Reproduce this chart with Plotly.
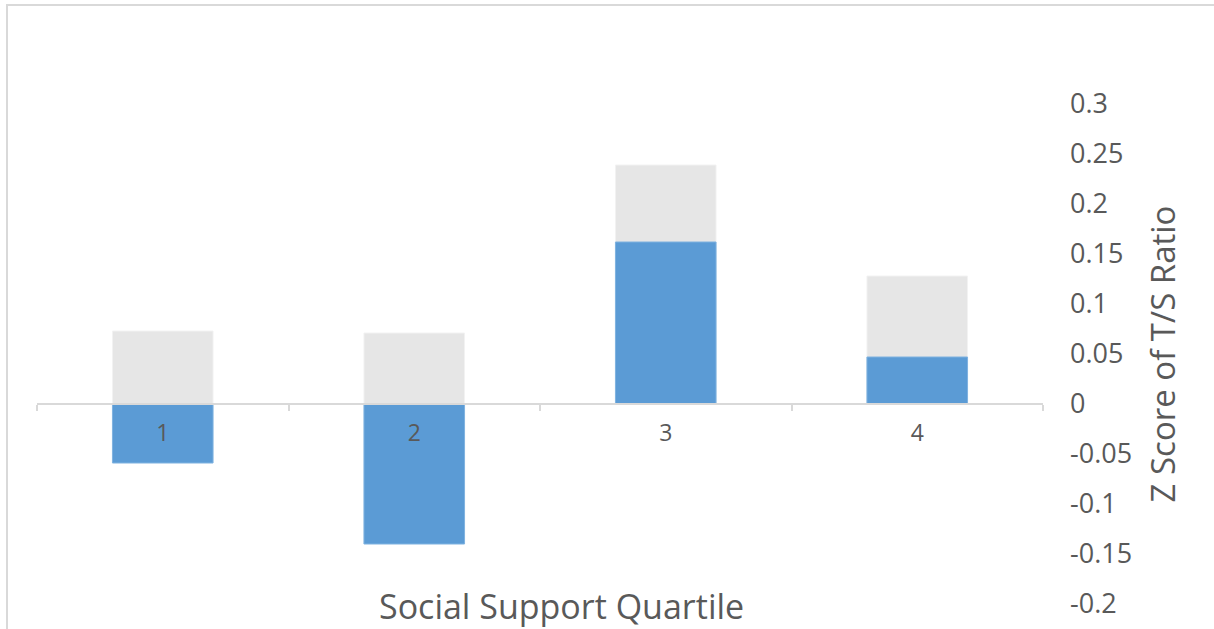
import plotly.graph_objects as go

categories = ["1", "2", "3", "4"]
gray_values = [0.073, 0.071, 0.239, 0.128]
blue_values = [-0.059, -0.140, 0.162, 0.047]
y_tick_values = [-0.2, -0.15, -0.1, -0.05, 0, 0.05, 0.1, 0.15, 0.2, 0.25, 0.3]
y_tick_labels = ["-0.2", "-0.15", "-0.1", "-0.05", "0", "0.05", "0.1", "0.15", "0.2", "0.25", "0.3"]

FONT = "Open Sans"
TEXT = "#595959"
LINE = "#D9D9D9"

fig = go.Figure()
fig.add_trace(go.Bar(x=categories, y=gray_values, width=0.4,
                     marker=dict(color="#E6E6E6", line=dict(color="#F2F2F2", width=1)),
                     showlegend=False, hoverinfo="y"))
fig.add_trace(go.Bar(x=categories, y=blue_values, width=0.4,
                     marker=dict(color="#5B9BD5", line=dict(color="#7FB2E0", width=1)),
                     showlegend=False, hoverinfo="y"))

fig.update_layout(
    width=1214, height=629,
    margin=dict(l=37, r=171, t=104, b=25),
    paper_bgcolor="white", plot_bgcolor="white",
    barmode="overlay",
    font=dict(family=FONT, color=TEXT),
    xaxis=dict(
        type="category", range=[-0.5, 3.5],
        anchor="free", position=0.4, automargin=False,
        showline=True, linecolor=LINE, linewidth=1.5,
        ticks="outside", tickson="boundaries", ticklen=6, tickcolor=LINE, tickwidth=1.5,
        tickfont=dict(family=FONT, size=23, color=TEXT),
        ticklabelstandoff=9,
        showgrid=False, zeroline=False,
    ),
    yaxis=dict(
        side="right", range=[-0.2, 0.3], automargin=False,
        tickvals=y_tick_values, ticktext=y_tick_labels,
        tickfont=dict(family=FONT, size=27, color=TEXT),
        ticks="", ticklabelstandoff=26,
        showgrid=False, zeroline=False, showline=False,
        title=dict(text="Z Score of T/S Ratio", font=dict(family=FONT, size=33, color=TEXT), standoff=20),
    ),
    annotations=[dict(
        text="Social Support Quartile", xref="paper", yref="paper",
        x=0.5209, y=-0.004, xanchor="center", yanchor="middle", showarrow=False,
        font=dict(family=FONT, size=34, color=TEXT),
    )],
    shapes=[dict(
        type="rect", xref="paper", yref="paper",
        x0=-0.0298, x1=1.18, y0=-0.08, y1=1.198,
        line=dict(color=LINE, width=2), fillcolor="rgba(0,0,0,0)", layer="below",
    )],
)

fig.write_html("out.html")
